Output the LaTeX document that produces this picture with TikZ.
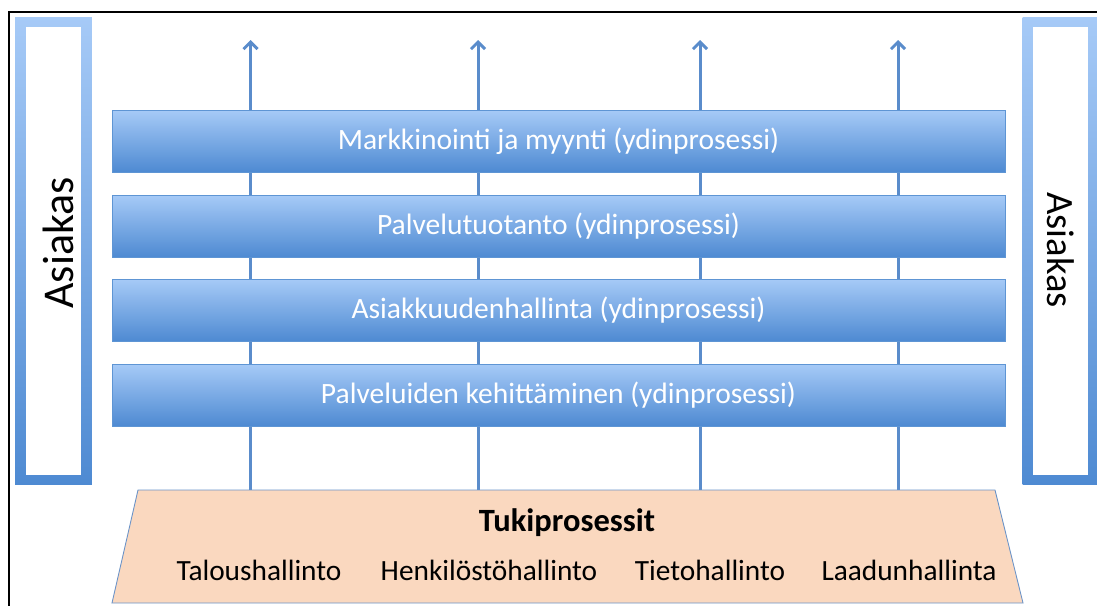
\documentclass[tikz,border=0pt]{standalone}
\usepackage{fontspec}
\setmainfont{Carlito}
\usetikzlibrary{arrows.meta,backgrounds,shadows}

\definecolor{barTop}{HTML}{A6CAF7}
\definecolor{barBottom}{HTML}{4E8AD2}
\definecolor{barLine}{HTML}{5E95D4}
\definecolor{arrowBlue}{HTML}{5A8CCB}
\definecolor{tukiFill}{HTML}{FAD8BF}
\definecolor{tukiLine}{HTML}{6A93C8}

\tikzset{
  prosessi/.style={shade, top color=barTop, bottom color=barBottom, draw=barLine,
    line width=0.4pt, minimum width=17.86cm, minimum height=1.24cm, inner sep=0pt,
    text=white, font=\fontsize{16.8}{19}\selectfont,
    drop shadow={opacity=0.2, shadow xshift=0.8pt, shadow yshift=-0.8pt}},
  nuoli/.style={draw=arrowBlue, line width=1.7pt, -{Straight Barb[length=4pt,width=8pt]}},
  asiakaskehys/.style={shade, top color=barTop, bottom color=barBottom,
    minimum width=1.54cm, minimum height=9.36cm, inner sep=0pt},
  asiakassisus/.style={fill=white, minimum width=1.12cm, minimum height=8.96cm, inner sep=0pt},
  asiakasteksti/.style={inner sep=0pt},
  tukiteksti/.style={font=\fontsize{16.7}{19}\selectfont, inner sep=0pt}
}

\begin{document}
\begin{tikzpicture}[x=0.02cm, y=-0.02cm]
    \useasboundingbox (0,0) rectangle (1097,605);
    \draw[line width=1.2pt] (9,620) |- (1110,12);

    % asiakas
    \node[asiakaskehys] (asL) at (53.5,251) {};
    \node[asiakassisus] (asLin) at (asL) {};
    \node[asiakasteksti, rotate=90, font=\fontsize{25}{27}\selectfont] (asLtxt) at (58.5,243) {Asiakas};
    \node[asiakaskehys] (asR) at (1061,251) {};
    \node[asiakassisus, minimum width=1.1cm] (asRin) at (1060.5,251) {};
    \node[asiakasteksti, rotate=-90, font=\fontsize{22}{24}\selectfont] (asRtxt) at (1061,250) {Asiakas};

    % ydinprosessit
    \node[prosessi] (p1) at (558.5,141) {Markkinointi ja myynti (ydinprosessi)};
    \node[prosessi] (p2) at (558.5,226) {Palvelutuotanto (ydinprosessi)};
    \node[prosessi] (p3) at (558.5,310) {Asiakkuudenhallinta (ydinprosessi)};
    \node[prosessi] (p4) at (558.5,395) {Palveluiden kehittäminen (ydinprosessi)};

    % tukiprosessit
    \coordinate (tukiNW) at (138,490);
    \coordinate (tukiNE) at (995,490);
    \coordinate (tukiSE) at (1023,603);
    \coordinate (tukiSW) at (112,603);
    \draw[fill=tukiFill, draw=tukiLine, line width=0.5pt]
        (tukiNW) -- (tukiNE) -- (tukiSE) -- (tukiSW) -- cycle;
    \node[tukiteksti, font=\fontsize{18.5}{20}\selectfont\bfseries] (tukiOts) at (567,523) {Tukiprosessit};
    \node[tukiteksti] (t1) at (259,570) {Taloushallinto};
    \node[tukiteksti] (t2) at (489,570) {Henkilöstöhallinto};
    \node[tukiteksti] (t3) at (710,570) {Tietohallinto};
    \node[tukiteksti] (t4) at (909,570) {Laadunhallinta};

    % nuolet
    \coordinate (k1) at (250.5,40);
    \coordinate (k2) at (478,40);
    \coordinate (k3) at (700,40);
    \coordinate (k4) at (898,40);
    \begin{scope}[on background layer]
        \foreach \k in {k1,k2,k3,k4}
            \draw[nuoli] (tukiNW -| \k) -- (\k);
    \end{scope}

\end{tikzpicture}
\end{document}
